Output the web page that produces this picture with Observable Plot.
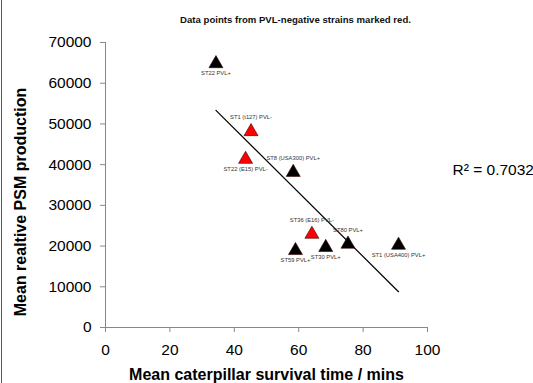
<!DOCTYPE html>
<html>
<head>
<meta charset="utf-8">
<script src="https://cdn.jsdelivr.net/npm/d3@7"></script>
<script src="https://cdn.jsdelivr.net/npm/@observablehq/plot@0.6"></script>
<style>
  html, body { margin: 0; padding: 0; background: #fff; }
  #wrap { position: relative; width: 533px; height: 383px; overflow: hidden; }
  #edge { position: absolute; left: 1px; top: 0; width: 1px; height: 383px; background: #555; }
  svg { font-family: "Liberation Sans", Arial, sans-serif; }
  [aria-label="x-axis tick"], [aria-label="y-axis tick"] { stroke: #888; }
</style>
</head>
<body>
<div id="wrap"><div id="edge"></div></div>
<script>
// --- data ---
const strains = ["ST22 PVL+", "ST1 (t127) PVL-", "ST22 (E15) PVL-", "ST8 (USA300) PVL+", "ST36 (E16) PVL-", "ST59 PVL+", "ST30 PVL+", "ST80 PVL+", "ST1 (USA400) PVL+"];
const survival = [34.3, 45.2, 43.5, 58.3, 64.1, 59.0, 68.4, 75.3, 91.0];
const psm = [65300, 48600, 41800, 38600, 23400, 19400, 20150, 20960, 20700];
const pvlStatus = ["PVL+", "PVL-", "PVL-", "PVL+", "PVL-", "PVL+", "PVL+", "PVL+", "PVL+"];
const labelSide = ["below", "above", "below", "above", "above", "below", "below", "above", "below"];
const xTicks = [0, 20, 40, 60, 80, 100];
const yTicks = [0, 10000, 20000, 30000, 40000, 50000, 60000, 70000];
const subtitle = ["Data points from PVL-negative strains marked red."];
const xTitle = ["Mean caterpillar survival time / mins"];
const yTitle = ["Mean realtive PSM production"];
const r2Label = ["R\u00B2 = 0.7032"];

const data = strains.map((s, i) => ({
  label: s, x: survival[i], y: psm[i], pvl: pvlStatus[i], side: labelSide[i]
}));

const chart = Plot.plot({
  width: 533,
  height: 383,
  marginLeft: 105,
  marginRight: 106,
  marginTop: 42,
  marginBottom: 56,
  x: { domain: [0, 100] },
  y: { domain: [0, 70000] },
  color: { domain: ["PVL+", "PVL-"], range: ["#000000", "#ff0000"] },
  marks: [
    Plot.ruleY([0], { stroke: "#888", strokeWidth: 1 }),
    Plot.ruleX([0], { stroke: "#888", strokeWidth: 1 }),
    Plot.axisX({ ticks: xTicks, tickSize: 5, tickPadding: 11, fontSize: 15.5, fill: "#000", label: null, tickFormat: d3.format("d") }),
    Plot.axisY({ ticks: yTicks, tickSize: 5, tickPadding: 9, fontSize: 15.5, fill: "#000", label: null, tickFormat: d3.format("d") }),
    Plot.linearRegressionY(data, { x: "x", y: "y", stroke: "#000", strokeWidth: 1.2, ci: 0 }),
    Plot.dot(data, { x: "x", y: "y", symbol: "triangle", r: 5.2, fill: "pvl", stroke: "#300", strokeWidth: 0.6, dy: 2 }),
    Plot.text(data.filter(d => d.side === "above"), { x: "x", y: "y", text: "label", dy: -12.5, fontSize: 5.8, fill: "#333" }),
    Plot.text(data.filter(d => d.side === "below"), { x: "x", y: "y", text: "label", dy: 11.5, fontSize: 5.8, fill: "#333" }),
    Plot.text(subtitle, { frameAnchor: "top", dx: 29, dy: -26.5, fontSize: 9.6, fontWeight: "bold", fill: "#111" }),
    Plot.text(r2Label, { frameAnchor: "right", textAnchor: "start", dx: 25, dy: -14.5, fontSize: 15.5, fill: "#000" }),
    Plot.text(xTitle, { frameAnchor: "bottom", lineAnchor: "bottom", dy: 52, fontSize: 16, fontWeight: "bold", fill: "#000" }),
    Plot.text(yTitle, { frameAnchor: "left", textAnchor: "middle", lineAnchor: "bottom", rotate: -90, dx: -80, dy: 17, fontSize: 16, fontWeight: "bold", fill: "#000" })
  ]
});
document.getElementById("wrap").appendChild(chart);
</script>
</body>
</html>
